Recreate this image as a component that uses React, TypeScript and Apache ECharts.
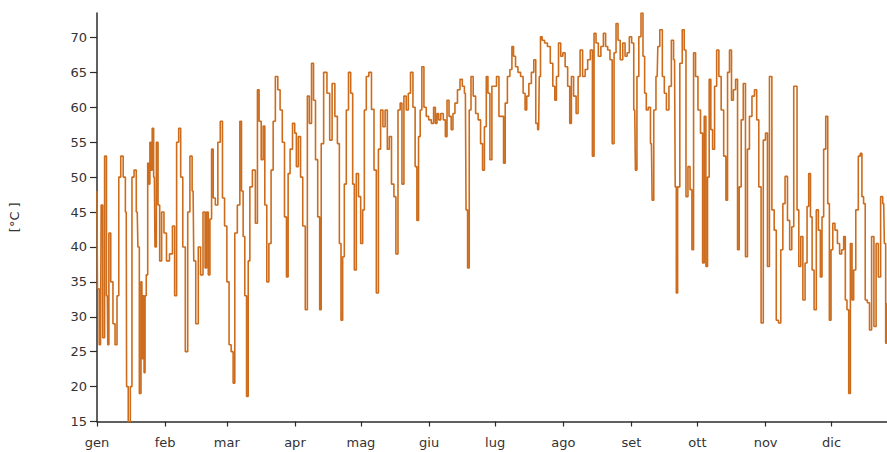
import React, { useEffect, useRef } from "react";
import * as echarts from "echarts";

// Month names (Italian) and first day-of-year of each month
const monthNames = ["gen", "feb", "mar", "apr", "mag", "giu", "lug", "ago", "set", "ott", "nov", "dic"];
const monthStarts = [0, 31, 59, 90, 120, 151, 181, 212, 243, 273, 304, 334];
const yTicks = [15, 20, 25, 30, 35, 40, 45, 50, 55, 60, 65, 70];

// [day of year, temperature °C]
const gen: [number, number][] = [
  [0, 48], [0.4, 34], [1.6, 26], [2.2, 46], [3, 27], [3.9, 53], [4.7, 33], [5.1, 26], [5.7, 42], [6.8, 35],
  [7.7, 29], [8.7, 26], [9.5, 33], [10.3, 50], [11.3, 53], [12.5, 50], [13.3, 45], [13.6, 20], [14.8, 14.5],
  [15.5, 20], [16.3, 50], [17.4, 51], [18.3, 45], [18.9, 40], [19.6, 19], [20.4, 35], [20.8, 24], [21.2, 33],
  [21.6, 22], [22.1, 33], [22.7, 36], [23.4, 52], [23.8, 49], [24.3, 55], [24.8, 51], [25.4, 57], [26.1, 50],
  [26.6, 40], [27.4, 55], [28.1, 46], [28.9, 38], [29.9, 45],
];
const feb: [number, number][] = [
  [31, 42], [32.2, 38], [33.7, 39], [34.9, 43], [35.7, 33], [36.7, 55], [37.6, 57], [38.5, 50], [39.5, 40],
  [40.8, 25], [41.7, 45], [42.8, 53], [43.7, 48], [44.3, 38], [45.5, 29], [46.6, 40], [47.6, 36], [48.8, 45],
  [49.5, 37], [50.2, 45], [51, 36], [51.7, 44], [52.5, 54], [53.2, 47], [54.4, 46], [55.5, 55], [56.6, 58],
  [57.5, 47], [58.5, 43],
];
const mar: [number, number][] = [
  [59.6, 35], [60.5, 26], [61.5, 25], [62.3, 20.5], [63, 42], [64.6, 46], [65.3, 58], [66.1, 48], [66.8, 41.5],
  [67.6, 33], [68.4, 18.6], [69.1, 38], [69.9, 48.6], [71.4, 51], [72.6, 43.4], [73.3, 62.5], [74.1, 58],
  [75.2, 52.5], [75.9, 57.3], [76.7, 46], [77.7, 35], [78.6, 40.5], [79.7, 51], [80.5, 58], [81.7, 64.4],
  [82.7, 62.5], [83.8, 59.6], [84.7, 55], [85.8, 44.3], [86.5, 35.7], [87.3, 50.5], [88.3, 54], [89.5, 57.7],
];
const apr: [number, number][] = [
  [90.3, 56.3], [91, 51.5], [92.1, 55.8], [93, 50], [94.1, 43], [95.3, 31], [96, 61.6], [97.1, 57.7], [98, 66.3],
  [98.9, 61], [99.8, 52.5], [100.9, 44.3], [101.6, 31], [102.3, 54.8], [103.8, 65], [105.3, 62], [106.3, 55.3],
  [107.5, 63.4], [108.8, 58.7], [109.8, 54.8], [110.6, 40.5], [111.3, 29.5], [112.1, 38.6], [112.8, 49],
  [113.9, 59.6], [114.8, 65], [115.9, 62], [116.6, 49], [117.4, 36.7], [118.4, 50.5], [119.4, 47.2],
];
const mag: [number, number][] = [
  [120.4, 40.5], [121.2, 45.3], [121.9, 59.6], [123, 64.4], [124.2, 65], [125.4, 59.7], [126.5, 51], [127.5, 33.4],
  [128.4, 54], [129.5, 59.6], [130.5, 57.2], [131.5, 59.6], [132.5, 54], [133.3, 55.8], [134.5, 49], [135.5, 47.2],
  [136.3, 39], [137.4, 59.6], [138.3, 60.6], [139, 49], [140.1, 61.6], [141.1, 59.6], [142, 62], [143.1, 65],
  [144.2, 60], [145.1, 51.5], [145.8, 43.8], [146.6, 55.8], [147.3, 59.6], [148.1, 65.8], [149.2, 60], [150.2, 58.7],
];
const giu: [number, number][] = [
  [151.4, 58.2], [152.6, 57.7], [153.5, 60], [154.2, 57.7], [155, 59.1], [155.7, 58.2], [156.9, 59.1], [158, 58.2],
  [158.8, 55.8], [159.5, 61], [160.6, 58.7], [161.5, 56.8], [162.2, 59.1], [163.3, 60.6], [164.5, 62.5], [165.6, 64],
  [166.6, 63], [167.5, 62], [168.1, 45.3], [168.9, 37], [169.6, 59.6], [170.5, 64.4], [171.6, 61.6], [172.7, 59.1],
  [173.9, 58.2], [174.9, 54.8], [175.7, 51], [176.6, 57.2], [177.4, 64.4], [178.1, 62], [179.2, 52.5], [179.9, 63],
];
const lug: [number, number][] = [
  [181.1, 63], [182.2, 64.4], [183.3, 58.7], [184.5, 58.7], [185.2, 52], [186, 60.6], [187.2, 64.4], [188.3, 65.4],
  [189, 68.7], [189.8, 67.3], [190.8, 65.8], [192, 65], [193.2, 64.4], [194.3, 62], [195, 59.6], [195.8, 61.6],
  [196.9, 63.4], [198.1, 65], [199.1, 66.8], [199.9, 57.7], [200.8, 56.8], [201.4, 64.4], [201.9, 70.1],
  [202.9, 69.6], [204.1, 69.2], [205.5, 68.7], [206.7, 66.3], [207.8, 63], [208.5, 61], [209.3, 64.4],
  [210.4, 69.2], [211.3, 67.3],
];
const ago: [number, number][] = [
  [212.3, 67.8], [213.4, 65.8], [214.6, 63], [215.3, 57.7], [216.1, 64.4], [217.3, 61.6], [218.4, 59.1],
  [219.1, 64.4], [220.2, 68.2], [221.4, 64.4], [222.5, 65.4], [223.7, 66.8], [224.9, 68.2], [225.6, 53],
  [226.4, 70.6], [227.4, 69.2], [228.5, 67.3], [229.7, 68.7], [230.8, 70.6], [231.7, 68.7], [232.7, 68.2],
  [233.8, 66.8], [234.7, 54.8], [235.5, 67.8], [236.5, 72], [237.3, 69.6], [238.5, 66.8], [239.6, 69.2],
  [240.6, 67.3], [241.5, 67.8], [242.6, 70.1],
];
const set: [number, number][] = [
  [243.6, 69.2], [244.5, 59.6], [245.1, 51], [245.9, 64.4], [246.8, 70.1], [247.9, 73.5], [248.6, 67.3],
  [249.4, 62], [250.1, 59.6], [251.2, 60], [252.1, 54.8], [252.7, 46.7], [253.6, 59.6], [254.7, 64.4],
  [255.3, 68.7], [256.5, 71.1], [257.6, 64.4], [258.3, 62], [259.5, 59.6], [260.6, 63], [261.7, 69.6],
  [262.6, 66.8], [263.2, 48.6], [263.6, 33.4], [264.4, 48.6], [265.6, 66.3], [266.6, 71.1], [267.4, 68.2],
  [268.2, 47.2], [269.2, 51.5], [270.1, 48.2], [270.9, 39.6], [271.6, 67.8], [272.7, 64.4],
];
const ott: [number, number][] = [
  [273.8, 59.6], [275, 56.3], [275.7, 37.7], [276.5, 58.7], [277.2, 37.2], [278, 50], [278.7, 64], [279.5, 56.8],
  [280.3, 54], [281.3, 63], [282.2, 68.2], [283.3, 64.4], [284.3, 59.6], [285.6, 53], [286.3, 46.7], [287.1, 65],
  [288.1, 68.2], [288.9, 61], [289.8, 62.5], [290.9, 64], [291.6, 39.6], [292.4, 48.6], [293.4, 58.2],
  [294.3, 63.4], [295.4, 38.6], [296.1, 54], [297.2, 58.7], [298.4, 61.6], [299.5, 62.5], [300.4, 58.2],
  [301.4, 48.6], [302.5, 29.1], [303.4, 55.3],
];
const nov: [number, number][] = [
  [304.5, 56.3], [305.2, 37.2], [306.3, 64.4], [307.4, 45.3], [308.4, 42.4], [309.3, 29.5], [310.4, 29.1],
  [311.4, 39.6], [312.3, 46.2], [313.4, 50.1], [314.5, 43.8], [315.4, 39.6], [316.4, 42.9], [317.2, 63],
  [317.9, 63], [318.7, 45.3], [319.5, 37.2], [320.5, 41.5], [321.4, 32.4], [322.5, 37.7], [323.2, 45.8],
  [324, 50.5], [324.8, 44.3], [325.5, 36.7], [326.6, 31], [327.5, 45.3], [328.5, 42.4], [329.3, 35.7],
  [330, 44.3], [330.8, 54], [331.9, 58.7], [332.6, 46.2], [333.4, 29.5],
];
const dic: [number, number][] = [
  [334.1, 39.6], [335, 43.4], [336.1, 42.4], [337.2, 40.5], [338.1, 39], [339.1, 39.6], [339.9, 41.5],
  [340.6, 32.4], [341.4, 31], [342.2, 19], [342.9, 40.5], [343.7, 32.4], [344.4, 36.7], [345.6, 45.3],
  [346.7, 53], [347.4, 53.4], [348.2, 47.2], [348.9, 46.2], [349.7, 32.4], [350.8, 32], [351.7, 28.1],
  [352.7, 41.5], [353.8, 28.6], [354.7, 40.5], [355.8, 35.7], [356.8, 47.2], [357.7, 46.2], [358.3, 40.5],
  [358.9, 26.2], [359.3, 32],
];

const FONT = "DejaVu Sans";

export default function App() {
  const ref = useRef<HTMLDivElement>(null);
  useEffect(() => {
    if (!ref.current) return;
    const chart = echarts.init(ref.current, undefined, { renderer: "svg" });
    const data = [...gen, ...feb, ...mar, ...apr, ...mag, ...giu, ...lug, ...ago, ...set, ...ott, ...nov, ...dic];
    chart.setOption({
      animation: false,
      backgroundColor: "#ffffff",
      grid: { left: 95.5, right: 0, top: 13, bottom: 30.5, containLabel: false },
      xAxis: {
        type: "value",
        min: 0,
        max: 359.2,
        splitLine: { show: false },
        axisLine: { show: true, lineStyle: { color: "#2b2b2b", width: 1.5 } },
        axisTick: { show: true, length: 5, customValues: monthStarts, lineStyle: { color: "#2b2b2b", width: 1.2 } },
        axisLabel: {
          customValues: monthStarts,
          formatter: (v: number) => monthNames[monthStarts.indexOf(Math.round(v))] ?? "",
          margin: 14,
          color: "#333",
          fontSize: 13,
          fontFamily: FONT,
        },
      },
      yAxis: {
        type: "value",
        min: 15,
        max: 73.5,
        interval: 5,
        name: "[°C ]",
        nameLocation: "middle",
        nameRotate: 90,
        nameGap: 76,
        nameTextStyle: { color: "#333", fontSize: 13, fontFamily: FONT },
        splitLine: { show: false },
        axisLine: { show: true, lineStyle: { color: "#2b2b2b", width: 1.5 } },
        axisTick: { show: true, length: 7, customValues: yTicks, lineStyle: { color: "#2b2b2b", width: 1.2 } },
        axisLabel: {
          customValues: yTicks,
          margin: 10,
          color: "#333",
          fontSize: 13,
          fontFamily: FONT,
        },
      },
      series: [
        {
          type: "line",
          data,
          step: "middle",
          symbol: "none",
          showSymbol: false,
          lineStyle: { color: "#cc6c1c", width: 1.6 },
          clip: true,
        },
      ],
    });
    return () => chart.dispose();
  }, []);
  return (
    <div
      ref={ref}
      style={{ position: "fixed", left: 0, top: 0, width: 887, height: 452, background: "#fff" }}
    />
  );
}
